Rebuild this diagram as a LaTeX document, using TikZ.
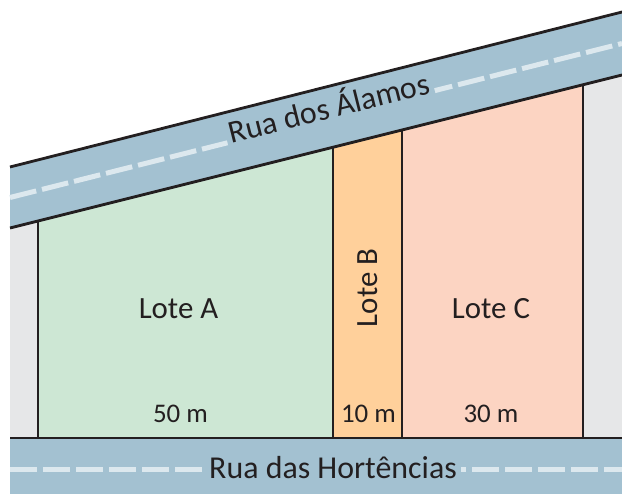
\documentclass[tikz,border=0pt]{standalone}
\usepackage{fontspec}
\setmainfont{Carlito}
\definecolor{roadc}{HTML}{A3C1D1}
\definecolor{dashc}{HTML}{DCE8EE}
\definecolor{lotAc}{HTML}{CDE7D4}
\definecolor{lotBc}{HTML}{FFD09B}
\definecolor{lotCc}{HTML}{FCD4C2}
\definecolor{grayc}{HTML}{E6E7E8}
\definecolor{inkc}{HTML}{231F20}
\tikzset{
  roadline/.style={draw=inkc, line width=2.8bp},
  lotline/.style={draw=inkc, line width=1.7bp},
  dashline/.style={draw=dashc, line width=5bp, dash pattern=on 27bp off 6bp},
  roadlabel/.style={text=inkc, font=\fontsize{32}{36}\selectfont, fill=roadc, inner xsep=4bp, inner ysep=1bp},
  lotlabel/.style={text=inkc, font=\fontsize{31}{36}\selectfont, inner sep=0pt},
  widthlabel/.style={text=inkc, font=\fontsize{27}{30}\selectfont, inner sep=0pt},
}
\begin{document}
\begin{tikzpicture}[x=1bp,y=-1bp]
\useasboundingbox (0,0) rectangle (622,494);
% ground between roads
\fill[grayc] (10,228) -- (622,75) -- (622,438) -- (10,438) -- cycle;
% lots
\fill[lotAc] (38,221) -- (333,147.25) -- (333,438) -- (38,438) -- cycle;
\fill[lotBc] (333,147.25) -- (402,130) -- (402,438) -- (333,438) -- cycle;
\fill[lotCc] (402,130) -- (583,84.75) -- (583,438) -- (402,438) -- cycle;
\draw[lotline] (38,221) -- (38,438);
\draw[lotline] (333,147.25) -- (333,438);
\draw[lotline] (402,130) -- (402,438);
\draw[lotline] (583,84.75) -- (583,438);
% top road
\fill[roadc] (10,167) -- (622,12) -- (622,75) -- (10,228) -- cycle;
\draw[dashline] (10,197.5) -- (622,43.5);
\draw[roadline] (10,167) -- (622,12);
\draw[roadline] (10,228) -- (622,75);
\node[roadlabel, rotate=14.1, anchor=mid] (alamos) at (331,116.2) {Rua dos Álamos};
% bottom road
\fill[roadc] (10,438) rectangle (622,494);
\draw[dashline] (10,469) -- (622,469);
\draw[roadline] (10,438) -- (622,438);
\node[roadlabel, anchor=base] (hort) at (333,478) {Rua das Hortências};
% lot labels
\node[lotlabel, anchor=base] (lA) at (178.5,318) {Lote A};
\node[lotlabel, anchor=base, rotate=90] (lB) at (377,288) {Lote B};
\node[lotlabel, anchor=base] (lC) at (491,318) {Lote C};
\node[widthlabel, anchor=base] (wA) at (180.5,422) {50 m};
\node[widthlabel, anchor=base] (wB) at (368.5,422) {10 m};
\node[widthlabel, anchor=base] (wC) at (491,422) {30 m};
\end{tikzpicture}
\end{document}
